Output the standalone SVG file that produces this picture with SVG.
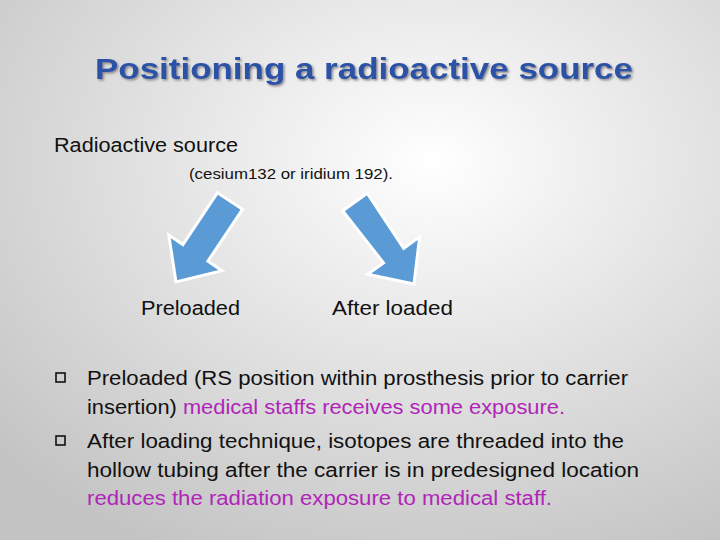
<svg xmlns="http://www.w3.org/2000/svg" width="720" height="540" viewBox="0 0 720 540">
<defs>
<radialGradient id="bg" cx="0.6" cy="0.3" r="0.8">
<stop offset="0" stop-color="#ffffff"/><stop offset="1" stop-color="#c4c4c4"/>
</radialGradient>
<filter id="sh"><feDropShadow dx="1.5" dy="1.5" stdDeviation="0.8" flood-color="#888"/></filter>
</defs>
<style>
text{font-family:"Liberation Sans",Arial,sans-serif;fill:#111}
.t{font-size:30px;font-weight:bold;fill:#2a52a8}
.b{font-size:19.5px}
.m{fill:#b025b8}
.ar{fill:#5b9bd5;stroke:#fff;stroke-width:3;stroke-linejoin:miter}
</style>
<rect width="720" height="540" fill="url(#bg)"/>
<text class="t" x="364" y="79" text-anchor="middle" filter="url(#sh)" textLength="538" lengthAdjust="spacingAndGlyphs">Positioning a radioactive source</text>
<text class="b" x="54" y="152" textLength="184" lengthAdjust="spacingAndGlyphs">Radioactive source</text>
<text x="189" y="179" font-size="14" textLength="204" lengthAdjust="spacingAndGlyphs">(cesium132 or iridium 192).</text>
<g id="arrows">
<polygon id="arrow-left" class="ar" points="217.5,192.7 242.5,209.3 207.9,261.2 222,270.7 176,282 168.8,235.1 182.9,244.6"/>
<polygon id="arrow-right" class="ar" points="342.8,210.8 367.2,193.2 403.7,248.3 419.6,236.9 414,284 367.6,274.3 383.5,262.9"/>
</g>
<g id="preloaded"><text class="b" x="141" y="315" textLength="99" lengthAdjust="spacingAndGlyphs">Preloaded</text></g>
<g id="afterloaded"><text class="b" x="332" y="315" textLength="121" lengthAdjust="spacingAndGlyphs">After loaded</text></g>
<rect x="56" y="373" width="9" height="9" fill="none" stroke="#111" stroke-width="1.6"/>
<rect x="56" y="436" width="9" height="9" fill="none" stroke="#111" stroke-width="1.6"/>
<text class="b" x="87" y="385" textLength="541" lengthAdjust="spacingAndGlyphs">Preloaded (RS position within prosthesis prior to carrier</text>
<text class="b" x="87" y="414" textLength="478" lengthAdjust="spacingAndGlyphs">insertion) <tspan class="m">medical staffs receives some exposure.</tspan></text>
<text class="b" x="87" y="448" textLength="537" lengthAdjust="spacingAndGlyphs">After loading technique, isotopes are threaded into the</text>
<text class="b" x="87" y="477" textLength="552" lengthAdjust="spacingAndGlyphs">hollow tubing after the carrier is in  predesigned location</text>
<text class="b m" x="87" y="505" textLength="465" lengthAdjust="spacingAndGlyphs">reduces the radiation exposure to medical staff.</text>
</svg>
